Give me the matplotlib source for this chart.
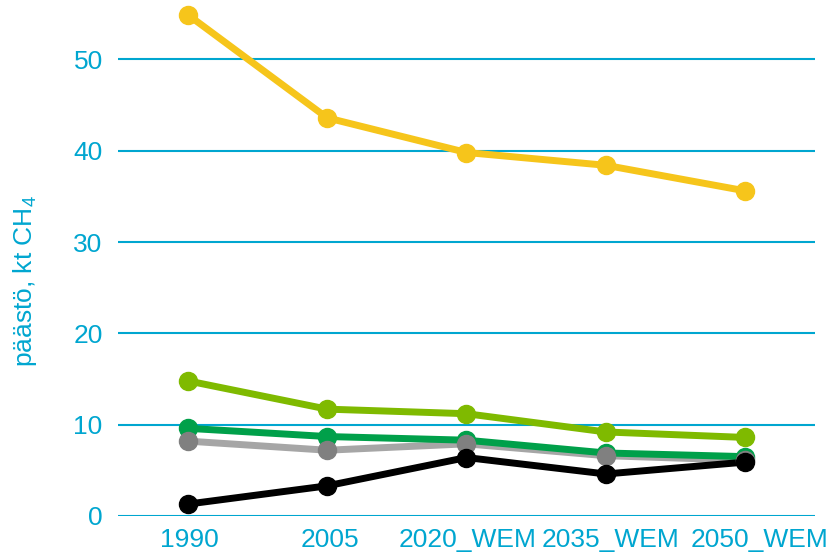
import matplotlib
matplotlib.use('Agg')
import matplotlib.pyplot as plt
import matplotlib.transforms as mtransforms

plt.rcParams['font.family'] = ['Liberation Sans', 'DejaVu Sans']
plt.rcParams['mathtext.default'] = 'regular'

# data (kt CH4)
categories = ['1990', '2005', '2020_WEM', '2035_WEM', '2050_WEM']
yellow = [54.9, 43.6, 39.8, 38.4, 35.6]
light_green = [14.8, 11.7, 11.2, 9.2, 8.6]
dark_green = [9.6, 8.7, 8.3, 6.9, 6.5]
grey = [8.2, 7.2, 7.9, 6.6, 6.1]
black = [1.3, 3.3, 6.4, 4.6, 5.9]

cyan = '#00a6d0'

fig = plt.figure(figsize=(8.35, 5.6), dpi=100)
ax = fig.add_axes([0.1413, 0.0786, 0.8347, 0.9214])

x = range(len(categories))

# lines first, then markers on top (like the original)
lines = [
    (yellow, '#f6c51b'),
    (grey, '#a6a6a6'),
    (dark_green, '#00a04a'),
    (light_green, '#7fba00'),
    (black, '#000000'),
]
for z, (vals, col) in enumerate(lines):
    ax.plot(x, vals, color=col, lw=5, solid_capstyle='round', zorder=3 + z * 0.1)

markers = [
    (yellow, '#f6c51b'),
    (light_green, '#7fba00'),
    (dark_green, '#00a04a'),
    (grey, '#808080'),
    (black, '#000000'),
]
for z, (vals, col) in enumerate(markers):
    ax.plot(x, vals, ls='none', marker='o', ms=13, color=col,
            zorder=4 + z * 0.1, clip_on=False)

ax.set_xlim(-0.5, 4.5)
ax.set_ylim(0, 56.5)
ax.set_yticks([0, 10, 20, 30, 40, 50])
ax.set_xticks(list(x))
ax.set_xticklabels(categories)
ax.yaxis.grid(True, color=cyan, lw=1.5, zorder=1)
ax.set_axisbelow(True)
for s in ['top', 'right', 'left', 'bottom']:
    ax.spines[s].set_visible(False)
ax.tick_params(length=0, colors=cyan, labelsize=19)
ax.tick_params(axis='y', pad=11)
ax.tick_params(axis='x', pad=9)

# the long labels sit a bit further right in the original
shifts = [2, 3, 1, 5, 14]
for lab, dx in zip(ax.get_xticklabels(), shifts):
    lab.set_transform(lab.get_transform() +
                      mtransforms.ScaledTranslation(dx / 100, 0, fig.dpi_scale_trans))

ax.set_ylabel('päästö, kt CH$_4$', color=cyan, fontsize=19)
ax.yaxis.set_label_coords(-0.114, 0.455)

fig.savefig('out.png', dpi=100)
